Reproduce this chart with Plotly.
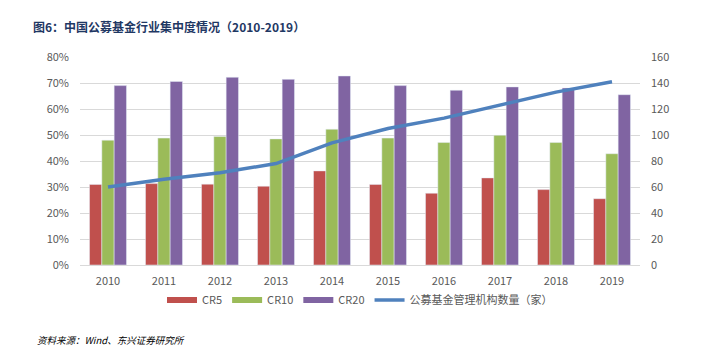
import plotly.graph_objects as go

years = ["2010", "2011", "2012", "2013", "2014", "2015", "2016", "2017", "2018", "2019"]
cr5 = [31.0, 31.3, 31.1, 30.3, 36.2, 31.0, 27.6, 33.5, 29.0, 25.5]
cr10 = [48.0, 48.8, 49.4, 48.5, 52.2, 48.8, 47.1, 49.9, 47.1, 42.8]
cr20 = [69.0, 70.6, 72.2, 71.4, 72.7, 69.0, 67.2, 68.5, 68.1, 65.5]
firms = [60, 66, 71, 78, 94, 105, 113, 123, 133, 141]

# page is offset by the default 8px body margin
OFF = 8
W, H = 717 - OFF, 358 - OFF
L, R, T, B = 80 - OFF, 640 - OFF, 57 - OFF, 265 - OFF
font_cjk = "Noto Sans CJK SC"

colors = ["#C0504D", "#9BBB59", "#8064A2"]
names = ["CR5", "CR10", "CR20"]

fig = go.Figure()
for vals, c, n in zip([cr5, cr10, cr20], colors, names):
    fig.add_bar(x=years, y=[v / 100 for v in vals], name=n, marker_color=c,
                showlegend=False)
# legend swatches as thick short lines (wide rectangles like the reference)
for c, n in zip(colors, names):
    fig.add_scatter(x=[None], y=[None], name=n, mode="lines",
                    line=dict(color=c, width=6), showlegend=True)
fig.add_scatter(x=years, y=firms, name="公募基金管理机构数量（家）", yaxis="y2",
                mode="lines", line=dict(color="#4F81BD", width=3.5))

fig.update_layout(
    width=W, height=H,
    margin=dict(l=L, r=W - R, t=T, b=H - B, autoexpand=False),
    paper_bgcolor="white", plot_bgcolor="white",
    barmode="group", bargap=0.34, bargroupgap=0,
    font=dict(family=font_cjk, size=11, color="#595959"),
    title=dict(text="<b>图6：中国公募基金行业集中度情况（2010-2019）</b>",
               xref="container", yref="container", x=(33 - OFF) / W, y=1 - (28 - OFF) / H,
               xanchor="left", yanchor="middle",
               font=dict(family=font_cjk, size=12, color="#1F3864")),
    xaxis=dict(showgrid=False, showline=True, linecolor="#D9D9D9", linewidth=1,
               ticks="", ticklabelstandoff=6, tickfont=dict(size=11, color="#595959"),
               fixedrange=True),
    yaxis=dict(range=[0, 0.8], dtick=0.1, tickformat=".0%", showgrid=True,
               gridcolor="#D9D9D9", gridwidth=1, zeroline=False, showline=False,
               ticks="", ticklabelstandoff=10, tickfont=dict(size=11, color="#595959")),
    yaxis2=dict(range=[0, 160], dtick=20, overlaying="y", side="right",
                showgrid=False, zeroline=False, showline=False, ticks="",
                ticklabelstandoff=10, tickfont=dict(size=11, color="#595959")),
    legend=dict(orientation="h", x=0.5, xanchor="center", y=(B - (300 - OFF)) / (B - T),
                yanchor="middle", font=dict(size=11, color="#595959"),
                itemwidth=30, traceorder="normal"),
    showlegend=True,
)

fig.add_annotation(text="<i>资料来源：Wind、东兴证券研究所</i>", xref="paper", yref="paper",
                   x=(35 - OFF - L) / (R - L), y=(B - (340 - OFF)) / (B - T), xanchor="left",
                   yanchor="middle", showarrow=False,
                   font=dict(family=font_cjk, size=9.5, color="#000000"))

fig.write_html("out.html")
